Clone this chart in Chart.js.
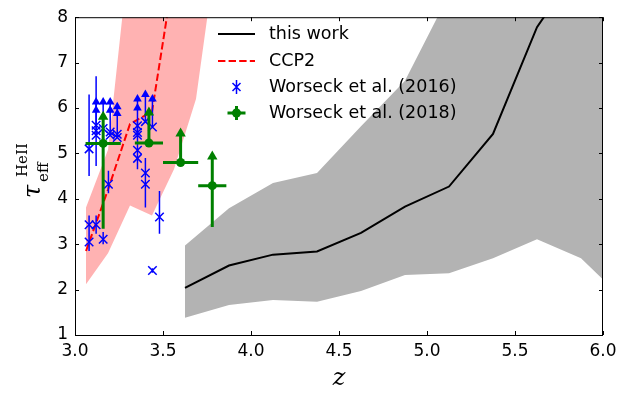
<!DOCTYPE html>
<html>
<head>
<meta charset="utf-8">
<script src="https://cdn.jsdelivr.net/npm/chart.js@4.4.1/dist/chart.umd.min.js"></script>
<style>
  html, body { margin: 0; padding: 0; background: #fff; }
  #wrap { width: 639px; height: 396px; }
</style>
</head>
<body>
<div id="wrap"><canvas id="tauChart" width="639" height="396"></canvas></div>
<script>
// this work: median tau_eff and the band around it
const workZ = [3.625, 3.875, 4.125, 4.375, 4.625, 4.875, 5.125, 5.375, 5.625, 5.875, 6.125];
const workTau = [2.04, 2.53, 2.77, 2.84, 3.25, 3.83, 4.27, 5.43, 7.78, 9.2, 10.5];
const workLow = [1.38, 1.66, 1.77, 1.73, 1.97, 2.32, 2.36, 2.69, 3.11, 2.69, 1.75];
const workHigh = [2.97, 3.79, 4.35, 4.57, 5.6, 6.6, 8.5, 10, 11, 11, 11];

// CCP2 model
const ccpZ = [3.0625, 3.1875, 3.3125, 3.4375, 3.5625, 3.6875, 3.8125];
const ccpTau = [2.85, 4.2, 5.65, 5.92, 9.0, 11, 12];
const ccpLow = [2.12, 2.8, 3.85, 3.63, 4.65, 6.2, 9.7];
const ccpHigh = [3.81, 5.08, 9.58, 12, 13, 14, 15];

// Worseck et al. (2016): measurements
const w16Z = [3.08, 3.12, 3.08, 3.08, 3.12, 3.16, 3.19, 3.355, 3.355, 3.355, 3.40, 3.40, 3.48, 3.44];
const w16Tau = [5.10, 5.62, 3.43, 3.05, 3.43, 3.11, 4.32, 5.46, 5.07, 4.89, 4.57, 4.32, 3.60, 2.42];
const w16Lo = [4.50, 4.72, 3.23, 2.85, 3.23, 3.00, 4.12, 5.20, 4.85, 4.65, 4.35, 3.81, 3.23, 2.37];
const w16Hi = [6.30, 6.70, 3.63, 3.23, 3.63, 3.27, 4.62, 5.70, 5.30, 5.15, 4.85, 4.90, 4.17, 2.47];

// Worseck et al. (2016): lower limits
const w16LimZ = [3.12, 3.12, 3.16, 3.20, 3.20, 3.24, 3.24, 3.355, 3.355, 3.40, 3.44];
const w16LimTau = [5.50, 5.40, 5.55, 5.47, 5.40, 5.42, 5.35, 5.61, 5.40, 5.70, 5.58];
const w16LimTop = [6.13, 5.95, 6.13, 6.13, 5.95, 6.03, 5.88, 6.20, 6.00, 6.30, 6.20];

// Worseck et al. (2018)
const w18Z = [3.16, 3.42, 3.60, 3.78];
const w18Tau = [5.22, 5.23, 4.80, 4.29];
const w18ZLo = [3.06, 3.34, 3.50, 3.70];
const w18ZHi = [3.26, 3.50, 3.70, 3.86];
const w18TauLo = [3.34, 5.23, 4.80, 3.38];
const w18TauTop = [5.81, 5.90, 5.44, 4.93];

const xTicks = [3.0, 3.5, 4.0, 4.5, 5.0, 5.5, 6.0];
const yTicks = [1, 2, 3, 4, 5, 6, 7, 8];

const BLUE = '#0000ff';
const GREEN = '#008000';
const tickFont = { family: "'DejaVu Sans', sans-serif", size: 17 };

const pts = (xs, ys) => xs.map((x, i) => ({ x: x, y: ys[i] }));

// vertical segments separated by gaps
const vSegs = (xs, y0, y1) => {
  const out = [];
  xs.forEach((x, i) => { out.push({ x: x, y: y0[i] }, { x: x, y: y1[i] }, { x: x, y: null }); });
  return out;
};
const hSegs = (x0, x1, ys) => {
  const out = [];
  ys.forEach((y, i) => { out.push({ x: x0[i], y: y }, { x: x1[i], y: y }, { x: x1[i], y: null }); });
  return out;
};

const segStyle = (color, width) => ({
  type: 'line', borderColor: color, borderWidth: width, pointRadius: 0,
  spanGaps: false, fill: false, tension: 0
});

const frameAndText = {
  id: 'frameAndText',
  afterDraw(chart) {
    const ctx = chart.ctx;
    const a = chart.chartArea;
    const xs = chart.scales.x, ys = chart.scales.y;
    ctx.save();
    ctx.strokeStyle = '#000';
    ctx.lineWidth = 1;
    ctx.strokeRect(a.left + 0.5, a.top + 0.5, a.right - a.left - 1, a.bottom - a.top);
    ctx.beginPath();
    xTicks.forEach(v => {
      const px = Math.round(xs.getPixelForValue(v)) + 0.5;
      ctx.moveTo(px, a.bottom); ctx.lineTo(px, a.bottom - 4);
      ctx.moveTo(px, a.top); ctx.lineTo(px, a.top + 4);
    });
    yTicks.forEach(v => {
      const py = Math.round(ys.getPixelForValue(v)) + 0.5;
      ctx.moveTo(a.left, py); ctx.lineTo(a.left + 4, py);
      ctx.moveTo(a.right, py); ctx.lineTo(a.right - 4, py);
    });
    ctx.stroke();

    // x title
    ctx.fillStyle = '#000';
    ctx.font = "italic 24px 'DejaVu Serif', serif";
    ctx.textAlign = 'center';
    ctx.textBaseline = 'alphabetic';
    ctx.fillText('z', (a.left + a.right) / 2, 385);

    // y title: tau_eff^HeII, rotated
    ctx.save();
    ctx.translate(40, 198);
    ctx.rotate(-Math.PI / 2);
    ctx.textAlign = 'left';
    ctx.font = "italic 24px 'DejaVu Serif', serif";
    ctx.fillText('τ', 0, 0);
    ctx.font = "15px 'DejaVu Serif', serif";
    ctx.fillText('eff', 16, 8);
    ctx.fillText('HeII', 21, -13);
    ctx.restore();

    // legend
    const rows = [34, 61, 87, 113];
    const h0 = 218, h1 = 255, hm = 236.5, tx = 269;
    ctx.lineWidth = 2;
    ctx.strokeStyle = '#000';
    ctx.beginPath(); ctx.moveTo(h0, rows[0]); ctx.lineTo(h1, rows[0]); ctx.stroke();
    ctx.strokeStyle = '#ff0000';
    ctx.setLineDash([7.4, 3.2]);
    ctx.beginPath(); ctx.moveTo(h0, rows[1]); ctx.lineTo(h1, rows[1]); ctx.stroke();
    ctx.setLineDash([]);
    ctx.strokeStyle = BLUE;
    ctx.lineWidth = 1.5;
    ctx.beginPath();
    ctx.moveTo(hm, rows[2] - 7); ctx.lineTo(hm, rows[2] + 7);
    ctx.moveTo(hm - 4, rows[2] - 4); ctx.lineTo(hm + 4, rows[2] + 4);
    ctx.moveTo(hm - 4, rows[2] + 4); ctx.lineTo(hm + 4, rows[2] - 4);
    ctx.stroke();
    ctx.strokeStyle = GREEN;
    ctx.fillStyle = GREEN;
    ctx.lineWidth = 3;
    ctx.beginPath();
    ctx.moveTo(hm - 9, rows[3]); ctx.lineTo(hm + 9, rows[3]);
    ctx.moveTo(hm, rows[3] - 7); ctx.lineTo(hm, rows[3] + 7);
    ctx.stroke();
    ctx.beginPath(); ctx.arc(hm, rows[3], 4.5, 0, Math.PI * 2); ctx.fill();

    ctx.fillStyle = '#000';
    ctx.font = "17.5px 'DejaVu Sans', sans-serif";
    ctx.textAlign = 'left';
    ctx.textBaseline = 'middle';
    ['this work', 'CCP2', 'Worseck et al. (2016)', 'Worseck et al. (2018)']
      .forEach((t, i) => ctx.fillText(t, tx, rows[i]));
    ctx.restore();
  }
};

new Chart(document.getElementById('tauChart').getContext('2d'), {
  type: 'line',
  data: {
    datasets: [
      // W18 markers on top
      { type: 'scatter', data: pts(w18Z, w18Tau), pointStyle: 'circle', pointRadius: 4.5,
        backgroundColor: GREEN, borderColor: GREEN, borderWidth: 0 },
      { type: 'scatter', data: pts(w18Z, w18TauTop), pointStyle: 'triangle', pointRadius: 6,
        backgroundColor: GREEN, borderColor: GREEN, borderWidth: 0 },
      { ...segStyle(GREEN, 3), data: vSegs(w18Z, w18TauLo, w18TauTop) },
      { ...segStyle(GREEN, 3), data: hSegs(w18ZLo, w18ZHi, w18Tau) },
      // W16
      { type: 'scatter', data: pts(w16Z, w16Tau), pointStyle: 'crossRot', pointRadius: 6,
        borderColor: BLUE, borderWidth: 1.5 },
      { type: 'scatter', data: pts(w16LimZ, w16LimTau), pointStyle: 'crossRot', pointRadius: 6,
        borderColor: BLUE, borderWidth: 1.5 },
      { type: 'scatter', data: pts(w16LimZ, w16LimTop), pointStyle: 'triangle', pointRadius: 5,
        backgroundColor: BLUE, borderColor: BLUE, borderWidth: 0 },
      { ...segStyle(BLUE, 1.5), data: vSegs(w16Z, w16Lo, w16Hi) },
      { ...segStyle(BLUE, 1.5), data: vSegs(w16LimZ, w16LimTau, w16LimTop) },
      // model lines
      { ...segStyle('#000000', 2), data: pts(workZ, workTau) },
      { ...segStyle('#ff0000', 2), borderDash: [7.4, 3.2], data: pts(ccpZ, ccpTau) },
      // bands
      { ...segStyle('rgba(0,0,0,0)', 0), data: pts(workZ, workLow) },
      { ...segStyle('rgba(0,0,0,0)', 0), data: pts(workZ, workHigh), fill: '-1', backgroundColor: '#b3b3b3' },
      { ...segStyle('rgba(0,0,0,0)', 0), data: pts(ccpZ, ccpLow) },
      { ...segStyle('rgba(0,0,0,0)', 0), data: pts(ccpZ, ccpHigh), fill: '-1', backgroundColor: 'rgba(255,0,0,0.3)' }
    ]
  },
  options: {
    responsive: false,
    animation: false,
    devicePixelRatio: 1,
    layout: { padding: { top: 11, right: 36, left: 0, bottom: 0 } },
    plugins: { legend: { display: false }, tooltip: { enabled: false } },
    scales: {
      x: {
        type: 'linear', min: 3, max: 6,
        afterFit: s => { s.height = 61; },
        afterBuildTicks: s => { s.ticks = xTicks.map(v => ({ value: v })); },
        grid: { display: false, drawTicks: false },
        border: { display: false },
        ticks: { font: tickFont, color: '#000', padding: 6, maxRotation: 0,
                 callback: v => v.toFixed(1) }
      },
      y: {
        type: 'linear', min: 1, max: 8,
        afterFit: s => { s.width = 75; },
        afterBuildTicks: s => { s.ticks = yTicks.map(v => ({ value: v })); },
        grid: { display: false, drawTicks: false },
        border: { display: false },
        ticks: { font: tickFont, color: '#000', padding: 7 }
      }
    }
  },
  plugins: [frameAndText]
});
</script>
</body>
</html>
